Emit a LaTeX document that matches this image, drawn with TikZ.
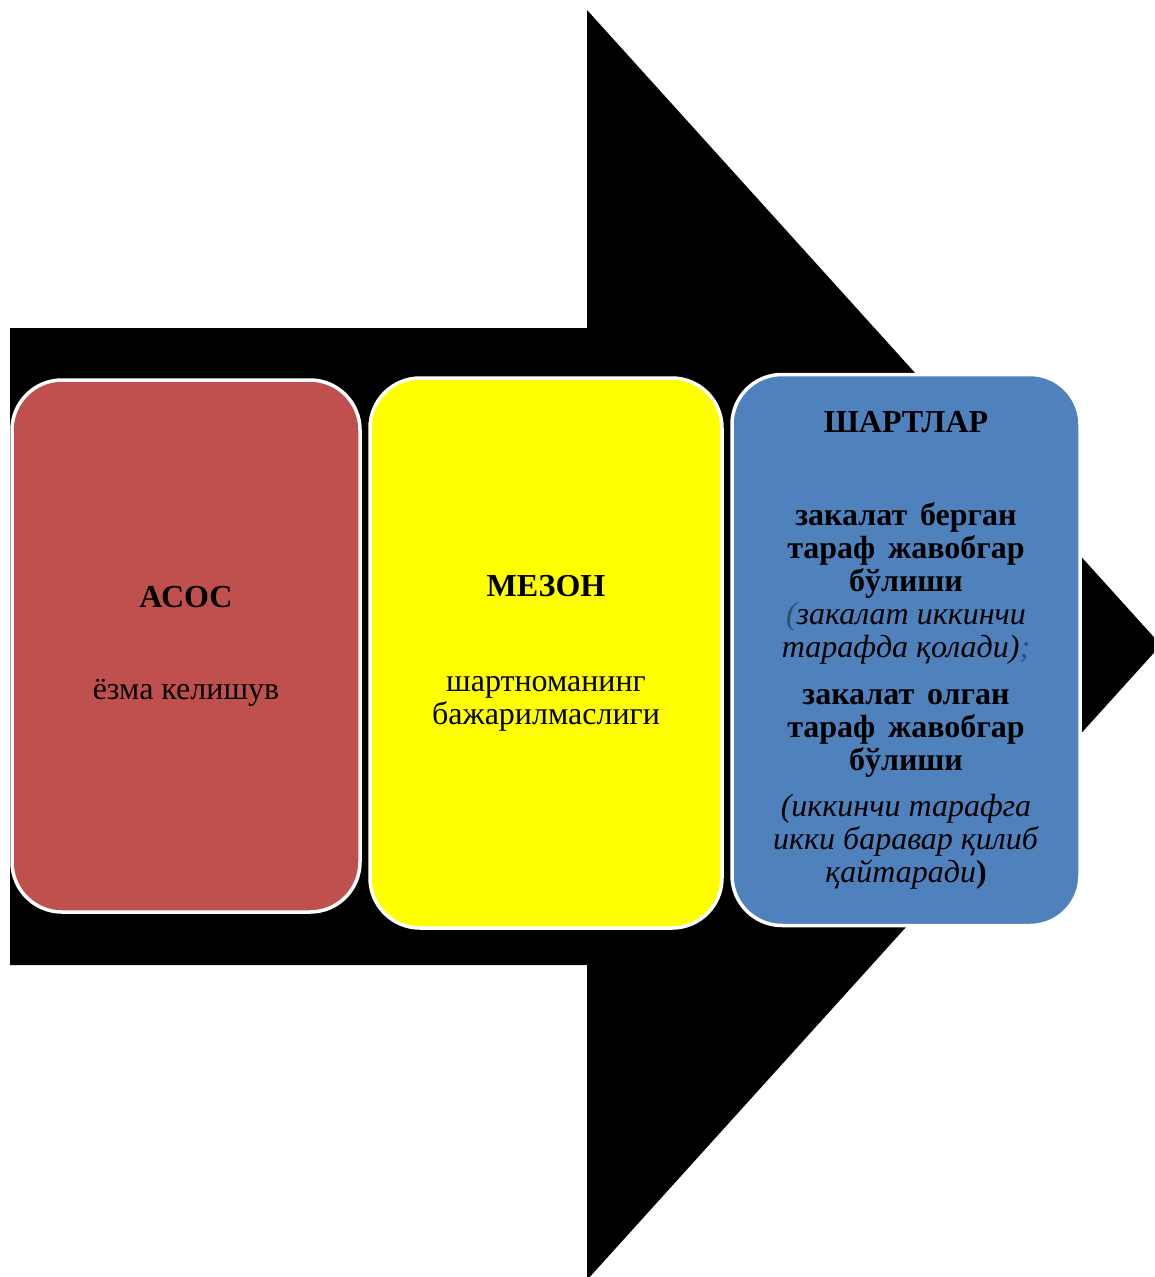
\documentclass[tikz,border=0pt]{standalone}
\usepackage{fontspec}
\setmainfont{Liberation Serif}
\usetikzlibrary{positioning}
\definecolor{asosred}{HTML}{C0504D}
\definecolor{mezonyellow}{HTML}{FFFF00}
\definecolor{shartblue}{HTML}{4F81BD}
\definecolor{parengray}{HTML}{2F4F78}
\tikzset{
    card/.style={rounded corners=50pt, draw=white, line width=3.5pt,
        align=center, inner sep=0pt, font=\fontsize{32}{33}\selectfont},
}

\begin{document}
\begin{tikzpicture}[x=1pt, y=-1pt]
    \useasboundingbox (0,0) rectangle (1154,1277);
    \clip (0,0) rectangle (1154,1277);

    \fill[black] (10,328) -- (587,328) -- (587,10) -- (1161,645)
        -- (587,1280) -- (587,965) -- (10,965) -- cycle;

    \node[card, fill=asosred, minimum width=348pt, minimum height=532pt] (asos) at (186,646)
        {\textbf{АСОС}\\[59pt] ёзма келишув};
    \node[card, fill=mezonyellow, minimum width=352pt, minimum height=550pt] (mezon) at (546,653)
        {\textbf{МЕЗОН}\\[62pt] шартноманинг\\ бажарилмаслиги};
    \node[card, fill=shartblue, minimum width=348pt, minimum height=551pt] (shart) at (906,650)
        {\textbf{ШАРТЛАР}\\[60pt]
         \textbf{закалат\hspace{0.4em}берган}\\
         \textbf{тараф\hspace{0.4em}жавобгар}\\
         \textbf{бўлиши}\\
         \textit{\textcolor{parengray}{(}закалат иккинчи}\\
         \textit{тарафда қолади)\textcolor{parengray}{;}}\\[14pt]
         \textbf{закалат\hspace{0.4em}олган}\\
         \textbf{тараф\hspace{0.4em}жавобгар}\\
         \textbf{бўлиши}\\[13pt]
         \textit{(иккинчи тарафга}\\
         \textit{икки баравар қилиб}\\
         \textit{қайтаради}\textbf{)}};
\end{tikzpicture}
\end{document}
